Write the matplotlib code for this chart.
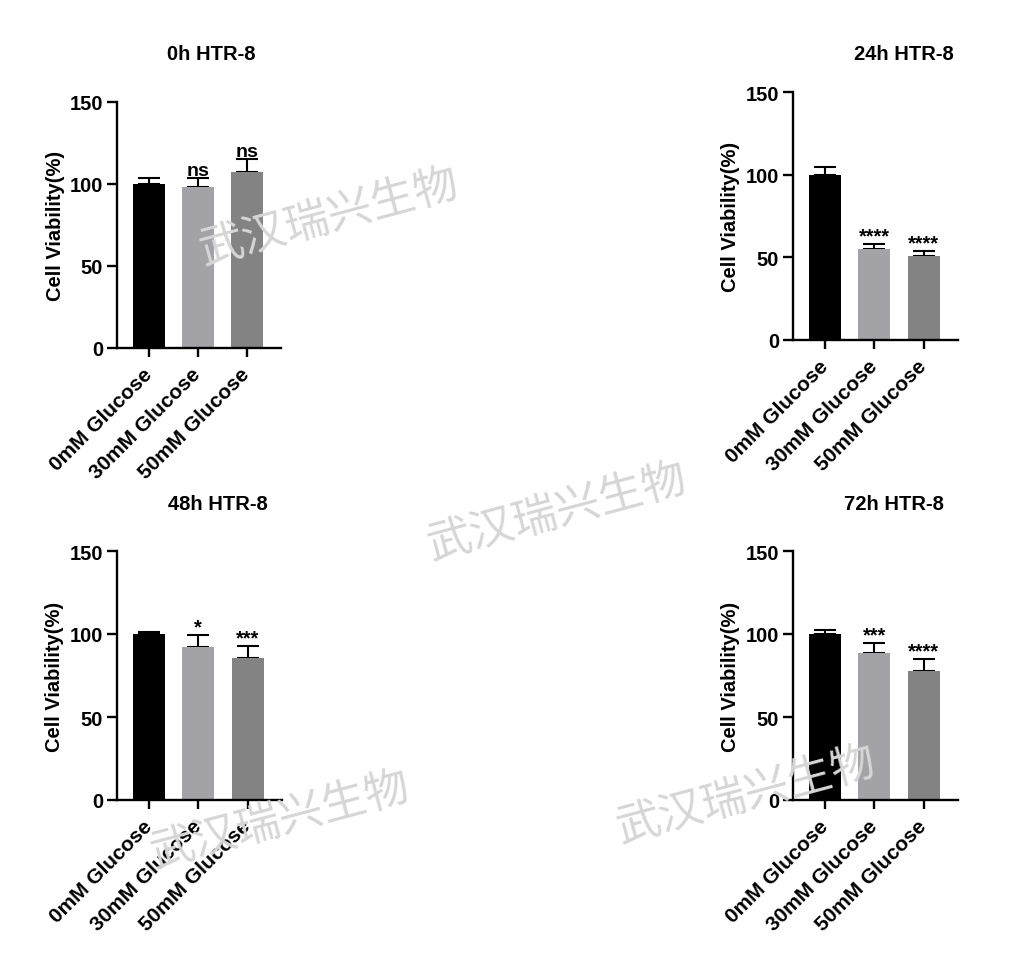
import numpy as np
import matplotlib
matplotlib.use('Agg')
import matplotlib.pyplot as plt

plt.rcParams['font.family'] = ['Liberation Sans', 'DejaVu Sans']
plt.rcParams['font.weight'] = 'bold'

groups = ['0mM Glucose', '30mM Glucose', '50mM Glucose']
titles = ['0h HTR-8', '24h HTR-8', '48h HTR-8', '72h HTR-8']

means_0h = [100, 98.2, 107.2]
err_0h = [3.9, 5.7, 8.1]
sig_0h = ['', 'ns', 'ns']

means_24h = [100, 55.0, 51.1]
err_24h = [4.9, 3.0, 2.9]
sig_24h = ['', '****', '****']

means_48h = [100, 92.1, 85.6]
err_48h = [1.4, 7.0, 7.1]
sig_48h = ['', '*', '***']

means_72h = [100, 88.8, 77.9]
err_72h = [2.4, 5.5, 7.3]
sig_72h = ['', '***', '****']

bar_colors = ['#000000', '#a3a3a7', '#838383']
W, H = 1024, 978


def px_axes(left, top, right, bottom):
    return [left / W, 1 - bottom / H, (right - left) / W, (bottom - top) / H]


def draw_panel(fig, rect, title, title_xy, means, errs, sigs):
    ax = fig.add_axes(px_axes(*rect))
    x = np.arange(len(groups))
    ax.bar(x, means, width=0.65, color=bar_colors, zorder=2)
    ax.errorbar(x, means, yerr=[np.zeros(len(errs)), errs], fmt='none',
                ecolor='black', elinewidth=1.5, capsize=8, capthick=1.5, zorder=1)
    for xi, m, e, s in zip(x, means, errs, sigs):
        if not s:
            continue
        if s == 'ns':
            ax.annotate(s, (xi, m + e), xytext=(0, -1), textcoords='offset points',
                        ha='center', va='bottom', fontsize=14, fontweight='bold')
        else:
            ax.annotate(s, (xi, m + e), xytext=(0, -1), textcoords='offset points',
                        ha='center', va='bottom', fontsize=14.5, fontweight='bold')
    ax.set_xlim(-0.65, 2.70)
    ax.set_ylim(0, 150)
    ax.set_yticks([0, 50, 100, 150])
    ax.set_xticks(x)
    ax.set_xticklabels(groups, rotation=45, ha='right', va='center', rotation_mode='anchor',
                       fontsize=15, fontweight='bold')
    ax.tick_params(axis='y', labelsize=14.5, width=1.7, length=7, pad=3)
    ax.tick_params(axis='x', width=1.7, length=6.5, pad=10)
    for sp in ['top', 'right']:
        ax.spines[sp].set_visible(False)
    for sp in ['left', 'bottom']:
        ax.spines[sp].set_linewidth(1.7)
    ax.set_ylabel('Cell Viability(%)', fontsize=14.5, fontweight='bold')
    ax.yaxis.set_label_coords(-0.32, 0.5)
    fig.text(title_xy[0] / W, 1 - title_xy[1] / H, title, ha='center', va='center',
             fontsize=14.5, fontweight='bold')
    return ax


fig = plt.figure(figsize=(W / 100, H / 100), dpi=100)

draw_panel(fig, (117, 103, 281, 349), titles[0], (211, 55), means_0h, err_0h, sig_0h)
draw_panel(fig, (793, 93, 958, 341), titles[1], (904, 55), means_24h, err_24h, sig_24h)
draw_panel(fig, (117, 552, 282, 801), titles[2], (218, 505), means_48h, err_48h, sig_48h)
draw_panel(fig, (793, 552, 958, 801), titles[3], (894, 505), means_72h, err_72h, sig_72h)

# watermark
for cx, cy in [(329, 217), (557, 512), (280, 820), (746, 795)]:
    fig.text(cx / W, 1 - cy / H, '武汉瑞兴生物', ha='center', va='center', rotation=15,
             fontsize=32, color='#d6d6d6', family=['Noto Sans CJK SC'], fontweight='normal',
             zorder=10)

fig.savefig('out.png', dpi=100)
